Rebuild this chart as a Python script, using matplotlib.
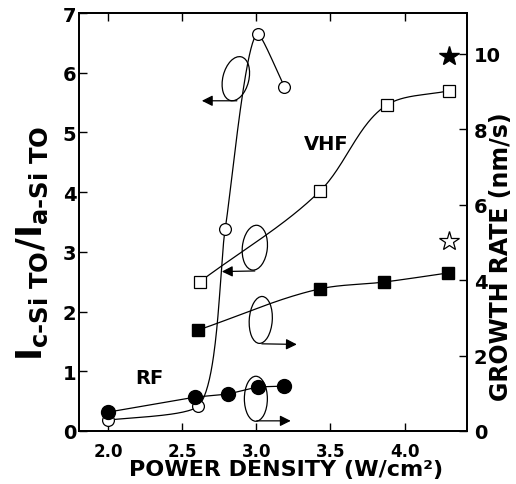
import numpy as np
import matplotlib.pyplot as plt
from matplotlib.patches import Ellipse
from matplotlib.transforms import ScaledTranslation

plt.rcParams['font.family'] = 'DejaVu Sans'
plt.rcParams['font.weight'] = 'bold'
plt.rcParams['mathtext.fontset'] = 'custom'
plt.rcParams['mathtext.rm'] = 'DejaVu Sans:bold'
plt.rcParams['mathtext.it'] = 'DejaVu Sans:bold'
plt.rcParams['mathtext.bf'] = 'DejaVu Sans:bold'

# RF: Raman intensity ratio (left axis, open circles)
rf_power = [2.0, 2.61, 2.79, 3.01, 3.19]
rf_ratio = [0.18, 0.42, 3.38, 6.65, 5.76]
# RF: growth rate (right axis, filled circles)
rf_rate_power = [2.0, 2.59, 2.81, 3.01, 3.19]
rf_rate = [0.50, 0.90, 0.98, 1.17, 1.19]
# VHF: intensity ratio (left axis, open squares)
vhf_power = [2.62, 3.43, 3.88, 4.30]
vhf_ratio = [2.50, 4.02, 5.46, 5.70]
# VHF: growth rate (right axis, filled squares)
vhf_rate_power = [2.61, 3.43, 3.86, 4.29]
vhf_rate = [2.68, 3.77, 3.95, 4.19]
# stars (left axis units)
star_power = [4.30]
star_filled = [6.28]
star_open = [3.18]

x_ticks = [2.0, 2.5, 3.0, 3.5, 4.0]
left_ticks = [0, 1, 2, 3, 4, 5, 6, 7]
right_ticks = [0, 2, 4, 6, 8, 10]

# pixel per unit, used to smooth curves in an even space
SX, SY_L, SY_R = 148.5, 59.7, 37.7


def smooth(xs, ys, sx, sy, k=1.0, n=50):
    p = np.column_stack([np.array(xs) * sx, np.array(ys) * sy])
    ch = np.diff(p, axis=0)
    d = np.hypot(ch[:, 0], ch[:, 1])
    u = ch / d[:, None]
    tang = np.vstack([u[0], (u[:-1] + u[1:]) / 2, u[-1]])
    t = np.linspace(0, 1, n)[:, None]
    h00 = 2 * t**3 - 3 * t**2 + 1
    h10 = t**3 - 2 * t**2 + t
    h01 = -2 * t**3 + 3 * t**2
    h11 = t**3 - t**2
    out = []
    for i in range(len(p) - 1):
        m0 = tang[i] * d[i] * k
        m1 = tang[i + 1] * d[i] * k
        out.append(h00 * p[i] + h10 * m0 + h01 * p[i + 1] + h11 * m1)
    c = np.vstack(out)
    return c[:, 0] / sx, c[:, 1] / sy


fig = plt.figure(figsize=(5.16, 4.85), dpi=100)
ax = fig.add_axes([79 / 516, 53 / 485, 388 / 516, 418 / 485])
ax2 = ax.twinx()

ax.set_xlim(1.805, 4.42)
ax.set_ylim(0, 7)
ax2.set_ylim(0, 7 * SY_L / SY_R)

# curves
sx_, sy_ = smooth(rf_power, rf_ratio, SX, SY_L, k=0.6)
ax.plot(sx_, sy_, color='black', lw=0.9)
ax.plot(rf_power, rf_ratio, 'o', ms=8.5, mfc='white', mec='black', mew=0.9)

sx_, sy_ = smooth(vhf_power, vhf_ratio, SX, SY_L)
ax.plot(sx_, sy_, color='black', lw=0.9)
ax.plot(vhf_power, vhf_ratio, 's', ms=8.5, mfc='white', mec='black', mew=0.9)

ax2.plot(rf_rate_power, rf_rate, '-o', color='black', lw=0.9, ms=10)
sx_, sy_ = smooth(vhf_rate_power, vhf_rate, SX, SY_R)
ax2.plot(sx_, sy_, color='black', lw=0.9)
ax2.plot(vhf_rate_power, vhf_rate, 's', color='black', ms=9)

ax.plot(star_power, star_filled, '*', color='black', ms=15)
ax.plot(star_power, star_open, '*', mfc='white', mec='black', mew=0.9, ms=15)

# loops with arrows pointing to the axis used
loops = [(2.862, 5.90, 26, 45, -14), (2.990, 3.07, 25, 45, -6),
         (3.030, 1.86, 23, 47, -4), (2.997, 0.54, 23, 45, 0)]
arrows = [((2.869, 5.53), (2.633, 5.53)), ((2.990, 2.68), (2.768, 2.67)),
          ((3.037, 1.46), (3.273, 1.45)), ((3.003, 0.17), (3.232, 0.17))]
for x, y, w, h, a in loops:
    tr = fig.dpi_scale_trans + ScaledTranslation(x, y, ax.transData)
    ax.add_patch(Ellipse((0, 0), w / 100, h / 100, angle=a, transform=tr,
                         fill=False, ec='black', lw=0.9))
for tail, tip in arrows:
    ax.annotate('', xy=tip, xytext=tail,
                arrowprops=dict(arrowstyle='-|>', color='black', lw=0.9,
                                mutation_scale=16, shrinkA=0, shrinkB=0))

ax.text(3.468, 4.82, 'VHF', fontsize=14, fontweight='bold', ha='center', va='center')
ax.text(2.276, 0.89, 'RF', fontsize=14, fontweight='bold', ha='center', va='center')

# ticks
ax.set_xticks(x_ticks)
ax.set_xticklabels([f'{v:.1f}' for v in x_ticks])
ax.set_yticks(left_ticks)
ax2.set_yticks(right_ticks)
ax.tick_params(axis='x', direction='in', length=6, width=1, top=True, labelsize=12, pad=8)
ax.tick_params(axis='y', direction='in', length=6, width=1, labelsize=14, pad=2)
ax2.tick_params(axis='y', direction='in', length=6, width=1, labelsize=14, pad=5)
for a in (ax, ax2):
    for s in a.spines.values():
        s.set_linewidth(1.3)

fig.text(286 / 516, 1 - 470 / 485, 'POWER DENSITY (W/cm²)', fontsize=16,
         fontweight='bold', ha='center', va='center')
fig.text(32 / 516, 1 - 243 / 485, r'$\mathrm{I}_{\text{c-Si TO}}/\mathrm{I}_{\text{a-Si TO}}$',
         fontsize=25, rotation=90, ha='center', va='center')
fig.text(501 / 516, 1 - 257 / 485, 'GROWTH RATE (nm/s)', fontsize=17,
         fontweight='bold', rotation=90, ha='center', va='center')

plt.savefig('out.png', dpi=100)
